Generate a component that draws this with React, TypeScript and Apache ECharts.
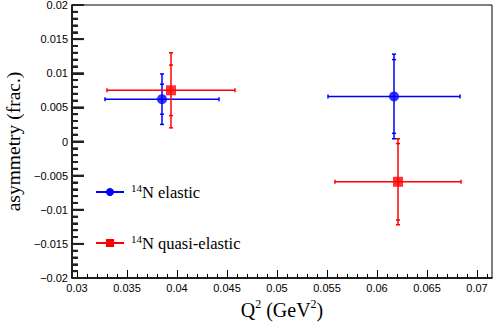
import React, { useEffect, useRef } from "react";
import * as echarts from "echarts";

// 14N elastic
const elQ2 = [0.0385, 0.0617];
const elAsym = [0.0062, 0.0066];
const elQ2Err = [0.0057, 0.0066];
const elStatErr = [0.0022, 0.0054];
const elTotErr = [0.0037, 0.0062];

// 14N quasi-elastic
const qeQ2 = [0.0394, 0.0621];
const qeAsym = [0.0075, -0.0059];
const qeQ2Err = [0.0064, 0.0063];
const qeStatErr = [0.0037, 0.0056];
const qeTotErr = [0.0055, 0.0063];

const xMajorTicks = [0.03, 0.035, 0.04, 0.045, 0.05, 0.055, 0.06, 0.065, 0.07];
const xMinorTicks = [
  0.031, 0.032, 0.033, 0.034, 0.036, 0.037, 0.038, 0.039, 0.041, 0.042, 0.043, 0.044,
  0.046, 0.047, 0.048, 0.049, 0.051, 0.052, 0.053, 0.054, 0.056, 0.057, 0.058, 0.059,
  0.061, 0.062, 0.063, 0.064, 0.066, 0.067, 0.068, 0.069, 0.071,
];
const yMajorTicks = [-0.02, -0.015, -0.01, -0.005, 0, 0.005, 0.01, 0.015, 0.02];
const yMinorTicks = [
  -0.019, -0.018, -0.017, -0.016, -0.014, -0.013, -0.012, -0.011, -0.009, -0.008, -0.007, -0.006,
  -0.004, -0.003, -0.002, -0.001, 0.001, 0.002, 0.003, 0.004, 0.006, 0.007, 0.008, 0.009,
  0.011, 0.012, 0.013, 0.014, 0.016, 0.017, 0.018, 0.019,
];

const X_MIN = 0.0295;
const X_MAX = 0.0715;
const Y_MIN = -0.02;
const Y_MAX = 0.02;
const BLUE = "#0000ff";
const RED = "#ff0000";

const fmt = (v: number) => {
  if (Math.abs(v) < 1e-9) return "0";
  return String(+v.toFixed(3)).replace("-", "\u2212");
};

function errorSeries(q2: number[], asym: number[], q2e: number[], stat: number[], tot: number[], color: string) {
  const data = q2.map((x, i) => [x, asym[i], q2e[i], stat[i], tot[i]]);
  return {
    type: "custom",
    xAxisIndex: 0,
    yAxisIndex: 0,
    silent: true,
    z: 3,
    data,
    encode: { x: 0, y: 1 },
    renderItem: (params: any, api: any) => {
      const x = api.value(0);
      const y = api.value(1);
      const xe = api.value(2);
      const se = api.value(3);
      const te = api.value(4);
      const pl = api.coord([x - xe, y]);
      const pr = api.coord([x + xe, y]);
      const pt = api.coord([x, y + te]);
      const pb = api.coord([x, y - te]);
      const st = api.coord([x, y + se]);
      const sb = api.coord([x, y - se]);
      const style = { stroke: color, lineWidth: 1.5 };
      const c = 2;
      const ln = (x1: number, y1: number, x2: number, y2: number) => ({
        type: "line",
        shape: { x1, y1, x2, y2 },
        style,
      });
      return {
        type: "group",
        children: [
          ln(pl[0], pl[1], pr[0], pr[1]),
          ln(pl[0], pl[1] - c, pl[0], pl[1] + c),
          ln(pr[0], pr[1] - c, pr[0], pr[1] + c),
          ln(pt[0], pt[1], pb[0], pb[1]),
          ln(pt[0] - c, pt[1], pt[0] + c, pt[1]),
          ln(pb[0] - c, pb[1], pb[0] + c, pb[1]),
          ln(st[0] - c, st[1], st[0] + c, st[1]),
          ln(sb[0] - c, sb[1], sb[0] + c, sb[1]),
        ],
      };
    },
  };
}

// y-axis inside ticks drawn through the axis scale
function yTickSeries() {
  return {
    type: "custom",
    silent: true,
    z: 2,
    data: [[0.05, 0]],
    encode: { x: 0, y: 1 },
    renderItem: (params: any, api: any) => {
      const children: any[] = [];
      const tick = (v: number, len: number) => {
        const p = api.coord([X_MIN, v]);
        children.push({
          type: "line",
          shape: { x1: p[0], y1: p[1], x2: p[0] + len, y2: p[1] },
          style: { stroke: "#222222", lineWidth: 2 },
        });
      };
      yMajorTicks.forEach((v) => tick(v, 12));
      yMinorTicks.forEach((v) => tick(v, 6));
      return { type: "group", children };
    },
  };
}

export default function App() {
  const ref = useRef<HTMLDivElement>(null);
  useEffect(() => {
    if (!ref.current) return;
    const chart = echarts.init(ref.current, null, { renderer: "svg" });
    const serif = "Liberation Serif";
    const sans = "Liberation Sans";
    const minorAxisX = {
      type: "value",
      min: X_MIN,
      max: X_MAX,
      position: "bottom",
      axisLine: { show: false, onZero: false },
      axisTick: { show: true, inside: true, length: 4, customValues: xMinorTicks, lineStyle: { color: "#000", width: 1 } },
      axisLabel: { show: false },
      splitLine: { show: false },
    };
    chart.setOption({
      animation: false,
      backgroundColor: "#ffffff",
      grid: {
        left: 72,
        top: 5,
        right: 3,
        bottom: 45,
        show: true,
        borderColor: "#000000",
        borderWidth: 1,
        backgroundColor: "transparent",
        containLabel: false,
        outerBoundsMode: "none",
      },
      legend: {
        data: ["elastic", "quasi"],
        orient: "vertical",
        left: 95,
        top: 182,
        padding: 0,
        itemWidth: 28,
        itemHeight: 10,
        itemGap: 32,
        selectedMode: false,
        formatter: (name: string) =>
          name === "elastic" ? "{s|14}{n|N elastic}" : "{s|14}{n|N quasi-elastic}",
        textStyle: {
          padding: [0, 0, 0, 2],
          rich: {
            s: { fontFamily: serif, fontSize: 11, color: "#000", verticalAlign: "top", lineHeight: 12, padding: [0, 0, 8, 0] },
            n: { fontFamily: serif, fontSize: 16.5, color: "#000", lineHeight: 20 },
          },
        },
      },
      xAxis: [
        {
          type: "value",
          min: X_MIN,
          max: X_MAX,
          position: "bottom",
          name: "{a|Q}{s|2}{a| (GeV}{s|2}{a|)}",
          nameLocation: "middle",
          nameGap: 12,
          nameTextStyle: {
            verticalAlign: "top",
            rich: {
              a: { fontFamily: serif, fontSize: 20, color: "#000", lineHeight: 24 },
              s: { fontFamily: serif, fontSize: 12, color: "#000", verticalAlign: "top", lineHeight: 14, padding: [0, 0, 10, 0] },
            },
          },
          axisLine: { show: true, onZero: false, lineStyle: { color: "#000", width: 1.5 } },
          axisTick: { show: true, inside: true, length: 8, customValues: xMajorTicks, lineStyle: { color: "#000", width: 1 } },
          axisLabel: {
            show: true,
            customValues: xMajorTicks,
            formatter: (v: number) => fmt(v),
            fontFamily: sans,
            fontSize: 11,
            color: "#000",
            margin: 4,
          },
          splitLine: { show: false },
        },
        minorAxisX,
      ],
      yAxis: {
        type: "value",
        min: Y_MIN,
        max: Y_MAX,
        interval: 0.005,
        position: "left",
        name: "asymmetry (frac.)",
        nameLocation: "middle",
        nameGap: 44,
        nameTextStyle: { fontFamily: serif, fontSize: 19.5, color: "#000" },
        axisLine: { show: true, onZero: false, lineStyle: { color: "#000", width: 1.5 } },
        axisTick: { show: true, inside: true, length: 12, lineStyle: { color: "#222222", width: 2 } },
        minorTick: { show: true, splitNumber: 5, length: 6, lineStyle: { color: "#222222", width: 2 } },
        axisLabel: {
          show: true,
          formatter: (v: number) => fmt(v),
          fontFamily: sans,
          fontSize: 11,
          color: "#000",
          margin: 4,
        },
        splitLine: { show: false },
        minorSplitLine: { show: false },
      },
      series: [
        yTickSeries(),
        errorSeries(elQ2, elAsym, elQ2Err, elStatErr, elTotErr, BLUE),
        errorSeries(qeQ2, qeAsym, qeQ2Err, qeStatErr, qeTotErr, RED),
        {
          type: "scatter",
          name: "elastic-pts",
          symbol: "circle",
          symbolSize: 10,
          itemStyle: { color: BLUE },
          z: 4,
          data: elQ2.map((x, i) => [x, elAsym[i]]),
        },
        {
          type: "scatter",
          name: "quasi-pts",
          symbol: "rect",
          symbolSize: 10,
          itemStyle: { color: RED },
          z: 4,
          data: qeQ2.map((x, i) => [x, qeAsym[i]]),
        },
        {
          type: "line",
          name: "elastic",
          data: [],
          symbol: "circle",
          symbolSize: 10,
          itemStyle: { color: BLUE },
          lineStyle: { color: BLUE, width: 1.5 },
        },
        {
          type: "line",
          name: "quasi",
          data: [],
          symbol: "rect",
          symbolSize: 10,
          itemStyle: { color: RED },
          lineStyle: { color: RED, width: 1.5 },
        },
      ],
    });
    return () => chart.dispose();
  }, []);
  return <div ref={ref} style={{ width: 495, height: 323, position: "absolute", left: 0, top: 0 }} />;
}
